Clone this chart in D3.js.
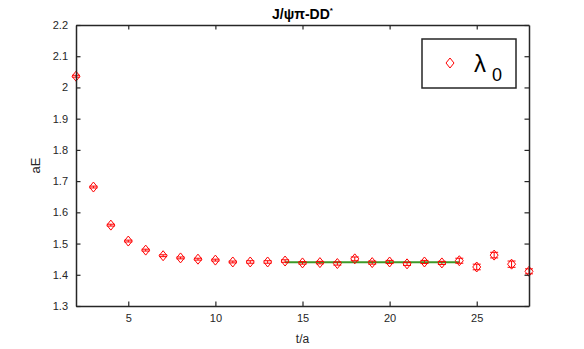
<!DOCTYPE html>
<meta charset="utf-8">
<style>
  body { margin: 0; background: #fff; }
  svg { font-family: "Liberation Sans", Arial, sans-serif; }
  .axis text { font-size: 11px; fill: #262626; }
  .axis line, .axis path { stroke: #262626; }
</style>
<svg width="584" height="349"></svg>
<script src="https://cdn.jsdelivr.net/npm/d3@7"></script>
<script>
// data
var tValues = [2, 3, 4, 5, 6, 7, 8, 9, 10, 11, 12, 13, 14, 15, 16, 17, 18, 19, 20, 21, 22, 23, 24, 25, 26, 27, 28];
var energies = [2.036, 1.681, 1.559, 1.508, 1.479, 1.461, 1.454, 1.450, 1.447, 1.441, 1.441, 1.441, 1.444, 1.438, 1.439, 1.436, 1.451, 1.439, 1.441, 1.435, 1.441, 1.438, 1.445, 1.425, 1.463, 1.434, 1.411];
var errors = [0.003, 0.003, 0.003, 0.003, 0.003, 0.003, 0.003, 0.003, 0.003, 0.003, 0.004, 0.004, 0.004, 0.004, 0.004, 0.005, 0.006, 0.005, 0.005, 0.005, 0.005, 0.005, 0.008, 0.009, 0.009, 0.010, 0.008];
var fitRange = [14, 24];
var fitValue = 1.440;
var xTicks = [5, 10, 15, 20, 25];
var yTicks = [1.3, 1.4, 1.5, 1.6, 1.7, 1.8, 1.9, 2, 2.1, 2.2];

var svg = d3.select("svg"),
    margin = {top: 25, right: 55, bottom: 43, left: 76},
    width = 584 - margin.left - margin.right,
    height = 349 - margin.top - margin.bottom,
    g = svg.append("g").attr("transform", "translate(" + margin.left + "," + margin.top + ")");

var x = d3.scaleLinear().domain([2, 28]).range([0, width]);
var y = d3.scaleLinear().domain([1.3, 2.2]).range([height, 0]);

var data = tValues.map(function(t, i) { return {t: t, e: energies[i], err: errors[i]}; });

// fit line
g.append("line")
    .attr("x1", x(fitRange[0])).attr("x2", x(fitRange[1]))
    .attr("y1", y(fitValue)).attr("y2", y(fitValue))
    .attr("stroke-width", 2).attr("stroke", "#3c9a28");

// error bars
var capW = 4;
var eb = g.append("g").attr("stroke", "#ff0000").attr("stroke-width", 1).attr("fill", "none");
data.forEach(function(d) {
  var cx = x(d.t), yl = y(d.e - d.err), yh = y(d.e + d.err);
  eb.append("line").attr("x1", cx).attr("x2", cx).attr("y1", yl).attr("y2", yh);
  eb.append("line").attr("x1", cx - capW).attr("x2", cx + capW).attr("y1", yl).attr("y2", yl);
  eb.append("line").attr("x1", cx - capW).attr("x2", cx + capW).attr("y1", yh).attr("y2", yh);
});

// diamond markers
function diamond(w, h) {
  return "M0," + (-h) + "L" + w + ",0L0," + h + "L" + (-w) + ",0Z";
}
g.append("g").selectAll("path")
    .data(data)
  .enter().append("path")
    .attr("transform", function(d) { return "translate(" + x(d.t) + "," + y(d.e) + ")"; })
    .attr("d", diamond(4, 5))
    .attr("fill", "none")
    .attr("stroke", "#ff0000")
    .attr("stroke-width", 1);

// axes, ticks pointing inward on all four sides
var tl = 4.5;
g.append("g").attr("class", "axis")
    .attr("transform", "translate(0," + height + ")")
    .call(d3.axisBottom(x).tickValues(xTicks).tickSizeInner(-tl).tickSizeOuter(0).tickPadding(8));
g.append("g").attr("class", "axis")
    .call(d3.axisTop(x).tickValues(xTicks).tickSizeInner(-tl).tickSizeOuter(0).tickFormat(""));
g.append("g").attr("class", "axis")
    .call(d3.axisLeft(y).tickValues(yTicks).tickFormat(d3.format("")).tickSizeInner(-tl).tickSizeOuter(0).tickPadding(8));
g.append("g").attr("class", "axis")
    .attr("transform", "translate(" + width + ",0)")
    .call(d3.axisRight(y).tickValues(yTicks).tickSizeInner(-tl).tickSizeOuter(0).tickFormat(""));
g.selectAll(".axis .domain").attr("stroke-width", 1.5);
g.selectAll(".axis .tick line").attr("stroke-width", 1.2);

// labels
g.append("text")
    .attr("x", width / 2).attr("y", height + 37)
    .attr("text-anchor", "middle").attr("font-size", 12).attr("fill", "#262626")
    .text("t/a");
g.append("text")
    .attr("transform", "translate(-36," + (height / 2) + ") rotate(-90)")
    .attr("text-anchor", "middle").attr("font-size", 13).attr("fill", "#262626")
    .text("aE");

var title = g.append("text")
    .attr("x", width / 2).attr("y", -6)
    .attr("text-anchor", "middle").attr("font-size", 14).attr("font-weight", "bold").attr("fill", "#000");
title.append("tspan").text("J/\u03c8\u03c0-DD");
title.append("tspan").attr("dy", -6).attr("font-size", 8).text("*");

// legend
var legend = g.append("g").attr("transform", "translate(" + (422 - margin.left) + "," + (39 - margin.top) + ")");
legend.append("rect")
    .attr("width", 94).attr("height", 49)
    .attr("fill", "#fff").attr("stroke", "#262626").attr("stroke-width", 1.5);
legend.append("path")
    .attr("transform", "translate(28,24)")
    .attr("d", diamond(4, 5))
    .attr("fill", "none").attr("stroke", "#ff0000");
var lt = legend.append("text").attr("x", 52).attr("y", 33).attr("font-size", 24).attr("fill", "#000");
lt.append("tspan").text("\u03bb");
lt.append("tspan").attr("dx", 6).attr("dy", 9).attr("font-size", 18).text("0");
</script>
